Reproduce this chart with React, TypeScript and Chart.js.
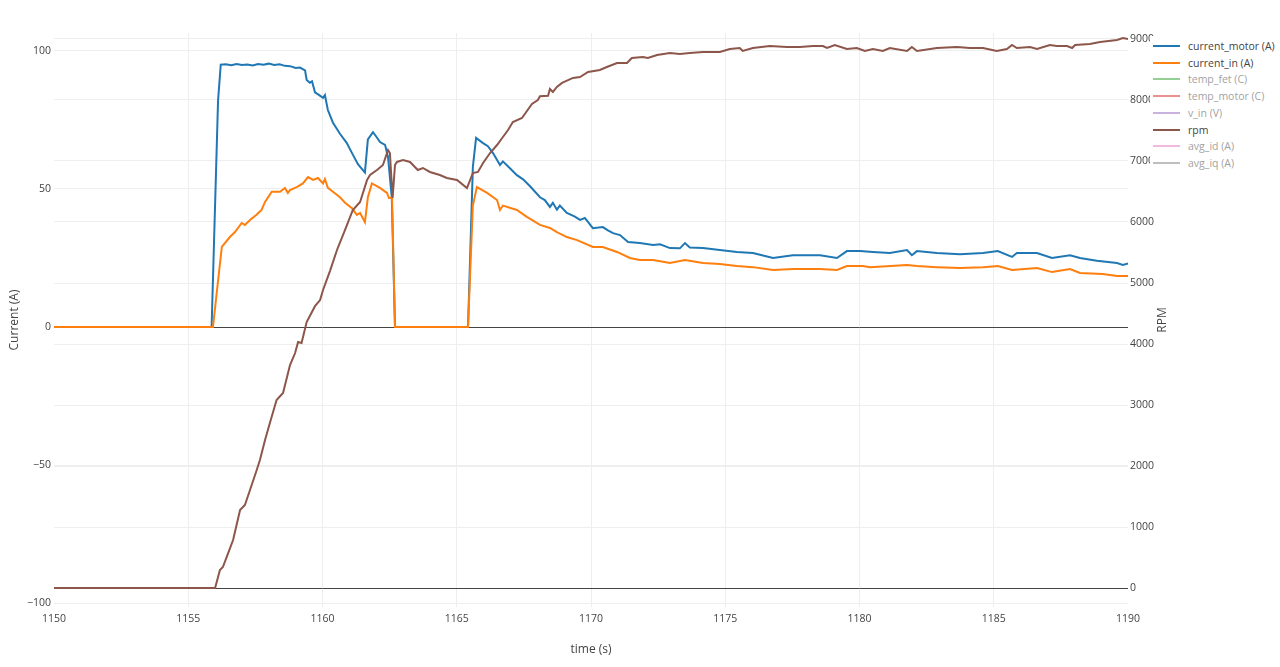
import React, { useEffect, useRef } from "react";
import { Chart, registerables } from "chart.js";

Chart.register(...registerables);

// ---------- data ----------
const xTicks = [1150, 1155, 1160, 1165, 1170, 1175, 1180, 1185, 1190];
const currentTicks = [-100, -50, 0, 50, 100];
const rpmTicks = [0, 1000, 2000, 3000, 4000, 5000, 6000, 7000, 8000, 9000];

const motorTime = [1150, 1155.87, 1156.11, 1156.21, 1156.4, 1156.6, 1156.8, 1157.0, 1157.2, 1157.4, 1157.6, 1157.8, 1158.0, 1158.2, 1158.4, 1158.6, 1158.79, 1159.0, 1159.16, 1159.35, 1159.41, 1159.53, 1159.61, 1159.72, 1159.85, 1160.02, 1160.09, 1160.2, 1160.39, 1160.52, 1160.65, 1160.9, 1161.1, 1161.32, 1161.45, 1161.58, 1161.69, 1161.88, 1162.0, 1162.14, 1162.33, 1162.44, 1162.58, 1162.7, 1165.42, 1165.6, 1165.72, 1165.98, 1166.16, 1166.35, 1166.61, 1166.72, 1166.98, 1167.24, 1167.47, 1167.73, 1168.1, 1168.28, 1168.47, 1168.58, 1168.73, 1168.84, 1169.1, 1169.4, 1169.59, 1169.77, 1170.07, 1170.44, 1170.63, 1170.82, 1171.08, 1171.38, 1171.82, 1172.31, 1172.57, 1172.94, 1173.31, 1173.5, 1173.68, 1174.17, 1174.8, 1175.43, 1176.03, 1176.78, 1177.52, 1178.53, 1179.16, 1179.53, 1180.02, 1180.5, 1181.13, 1181.77, 1181.95, 1182.14, 1182.88, 1183.74, 1184.6, 1185.15, 1185.68, 1185.86, 1186.61, 1187.17, 1187.84, 1188.21, 1188.84, 1189.59, 1189.81, 1190];
const motorCurrent = [0, 0, 82, 95, 95.2, 94.8, 95.3, 94.9, 95.1, 94.7, 95.3, 95.0, 95.4, 94.9, 95.2, 94.6, 94.5, 93.8, 94.0, 93.0, 89.5, 88.5, 89, 85, 84.2, 83, 84, 78.6, 74, 72, 70, 66.7, 63, 59, 57.5, 56, 68, 70.6, 69, 67, 66, 61.6, 47, 0, 0, 58, 68.5, 66.6, 65.5, 63, 58.7, 60, 57.5, 55, 53.5, 51, 47, 46, 43.5, 45, 42.5, 44, 41.3, 40, 38.8, 39.5, 35.8, 36.2, 35, 34, 33.3, 30.8, 30.4, 29.7, 30, 28.6, 28.5, 30.4, 28.8, 28.6, 27.9, 27.2, 26.8, 25, 26, 26, 25, 27.5, 27.5, 27.2, 26.8, 27.9, 26, 27.5, 26.8, 26.4, 26.8, 27.5, 25.4, 26.8, 26.8, 25, 26, 25, 24, 23.2, 22.5, 23];

const inTime = [1150, 1155.92, 1156.25, 1156.55, 1156.74, 1156.99, 1157.11, 1157.3, 1157.52, 1157.73, 1157.86, 1158.11, 1158.42, 1158.6, 1158.71, 1158.79, 1159.04, 1159.27, 1159.46, 1159.65, 1159.83, 1160.02, 1160.09, 1160.2, 1160.39, 1160.65, 1160.84, 1161.1, 1161.28, 1161.4, 1161.58, 1161.69, 1161.84, 1162.14, 1162.4, 1162.48, 1162.59, 1162.7, 1165.42, 1165.6, 1165.75, 1166.13, 1166.5, 1166.61, 1166.72, 1167.24, 1167.61, 1168.1, 1168.47, 1168.73, 1169.1, 1169.48, 1170.07, 1170.44, 1170.97, 1171.45, 1171.82, 1172.31, 1172.94, 1173.5, 1174.17, 1174.8, 1175.43, 1176.03, 1176.78, 1177.52, 1178.53, 1179.16, 1179.53, 1180.13, 1180.39, 1181.77, 1182.14, 1182.88, 1183.74, 1184.6, 1185.15, 1185.68, 1186.61, 1187.17, 1187.84, 1188.21, 1189.06, 1189.59, 1190];
const inCurrent = [0, 0, 29, 32.6, 34.4, 37.7, 37, 38.8, 40.5, 42.4, 45.3, 49, 49, 50.4, 48.6, 49.6, 50.7, 52, 54.3, 53.3, 54, 52, 53.6, 50.4, 49, 47, 45, 43, 40.6, 41.3, 38, 47, 52, 50.4, 48.6, 46.7, 47, 0, 0, 44, 50.7, 48.6, 46, 42.4, 44, 42.4, 39.9, 37, 35.9, 34.4, 32.6, 31.5, 29, 29, 27.2, 25, 24.3, 24.3, 23.2, 24.3, 23.2, 22.8, 22.1, 21.7, 20.7, 21, 21, 20.7, 22.1, 22.1, 21.7, 22.5, 22.1, 21.7, 21.4, 21.7, 22.1, 20.7, 21.4, 19.9, 21, 19.6, 19.2, 18.5, 18.5];

const rpmTime = [1150, 1156.0, 1156.18, 1156.29, 1156.43, 1156.67, 1156.93, 1157.11, 1157.3, 1157.55, 1157.67, 1157.86, 1158.04, 1158.29, 1158.53, 1158.79, 1158.98, 1159.09, 1159.22, 1159.41, 1159.72, 1159.91, 1160.02, 1160.28, 1160.54, 1160.84, 1161.13, 1161.4, 1161.66, 1161.77, 1162.03, 1162.25, 1162.44, 1162.51, 1162.61, 1162.7, 1162.77, 1163.0, 1163.26, 1163.55, 1163.74, 1164.0, 1164.37, 1164.63, 1165.01, 1165.38, 1165.6, 1165.79, 1165.98, 1166.24, 1166.5, 1166.72, 1166.91, 1167.09, 1167.43, 1167.8, 1168.02, 1168.1, 1168.4, 1168.47, 1168.58, 1168.73, 1168.92, 1169.33, 1169.59, 1169.89, 1170.33, 1170.59, 1170.97, 1171.34, 1171.52, 1171.93, 1172.12, 1172.46, 1172.94, 1173.31, 1173.68, 1174.17, 1174.8, 1175.17, 1175.54, 1175.65, 1176.03, 1176.66, 1177.3, 1177.78, 1178.27, 1178.64, 1178.79, 1179.08, 1179.53, 1179.9, 1180.2, 1180.5, 1180.87, 1181.13, 1181.77, 1181.95, 1182.14, 1182.88, 1183.63, 1184.11, 1184.6, 1185.11, 1185.49, 1185.68, 1185.86, 1186.35, 1186.61, 1187.09, 1187.35, 1187.73, 1187.92, 1188.03, 1188.58, 1188.96, 1189.59, 1189.81, 1190];
const rpmValues = [0, 0, 295, 344, 508, 787, 1279, 1361, 1607, 1934, 2098, 2426, 2705, 3082, 3197, 3656, 3852, 4033, 4016, 4361, 4620, 4721, 4885, 5200, 5541, 5869, 6197, 6328, 6689, 6770, 6852, 6934, 7180, 7131, 6393, 6934, 6984, 7016, 6984, 6852, 6885, 6820, 6770, 6721, 6689, 6557, 6803, 6820, 6967, 7131, 7262, 7393, 7508, 7639, 7705, 7934, 8000, 8060, 8070, 8180, 8131, 8213, 8279, 8361, 8377, 8459, 8492, 8541, 8607, 8607, 8689, 8705, 8689, 8738, 8770, 8754, 8770, 8787, 8787, 8836, 8852, 8803, 8852, 8885, 8869, 8869, 8885, 8885, 8852, 8902, 8836, 8852, 8803, 8836, 8803, 8852, 8803, 8869, 8803, 8852, 8869, 8852, 8852, 8803, 8836, 8902, 8852, 8869, 8836, 8902, 8885, 8885, 8852, 8902, 8918, 8951, 8984, 9016, 9000];

const legendLabels = ["current_motor (A)", "current_in (A)", "temp_fet (C)", "temp_motor (C)", "v_in (V)", "rpm", "avg_id (A)", "avg_iq (A)"];
const legendColors = ["#1f77b4", "#ff7f0e", "#2ca02c", "#d62728", "#9467bd", "#8c564b", "#e377c2", "#7f7f7f"];
const legendVisible = [true, true, false, false, false, true, false, false];

const xTitle = "time (s)";
const leftTitle = "Current (A)";
const rightTitle = "RPM";

const toPoints = (xs: number[], ys: number[]) =>
  xs.slice(0, Math.min(xs.length, ys.length)).map((x, i) => ({ x, y: ys[i] }));

const FONT = '"Open Sans", "Noto Sans", sans-serif';

const titlePlugin = {
  id: "axisTitles",
  afterDraw(chart: any) {
    const ctx = chart.ctx;
    const a = chart.chartArea;
    ctx.save();
    ctx.fillStyle = "#444";
    ctx.font = `12px ${FONT}`;
    ctx.textAlign = "center";
    ctx.textBaseline = "middle";
    ctx.fillText(xTitle, (a.left + a.right) / 2, 650);
    const cy = (a.top + a.bottom) / 2;
    ctx.save();
    ctx.translate(15, cy);
    ctx.rotate(-Math.PI / 2);
    ctx.fillText(leftTitle, 0, 0);
    ctx.restore();
    ctx.save();
    ctx.translate(1163, cy);
    ctx.rotate(-Math.PI / 2);
    ctx.fillText(rightTitle, 0, 0);
    ctx.restore();
    ctx.restore();
  },
};

export default function App() {
  const canvasRef = useRef<HTMLCanvasElement | null>(null);

  useEffect(() => {
    if (!canvasRef.current) return;
    const chart = new Chart(canvasRef.current, {
      type: "line",
      data: {
        datasets: [
          {
            label: legendLabels[0],
            data: toPoints(motorTime, motorCurrent),
            borderColor: legendColors[0],
            backgroundColor: legendColors[0],
            borderWidth: 2,
            pointRadius: 0,
            yAxisID: "y",
            order: 2,
          },
          {
            label: legendLabels[1],
            data: toPoints(inTime, inCurrent),
            borderColor: legendColors[1],
            backgroundColor: legendColors[1],
            borderWidth: 2,
            pointRadius: 0,
            yAxisID: "y",
            order: 1,
          },
          {
            label: legendLabels[5],
            data: toPoints(rpmTime, rpmValues),
            borderColor: legendColors[5],
            backgroundColor: legendColors[5],
            borderWidth: 2,
            pointRadius: 0,
            yAxisID: "y1",
            order: 0,
          },
        ],
      },
      options: {
        responsive: false,
        animation: false,
        devicePixelRatio: 1,
        events: [],
        layout: { padding: { top: 33, left: 0, right: 107, bottom: 0 } },
        plugins: { legend: { display: false }, tooltip: { enabled: false } },
        scales: {
          x: {
            type: "linear",
            min: 1150,
            max: 1190,
            afterBuildTicks: (s: any) => {
              s.ticks = xTicks.map((v) => ({ value: v }));
            },
            afterFit: (s: any) => {
              s.height = 60;
            },
            grid: {
              drawTicks: false,
              color: (c: any) =>
                c.tick && (c.tick.value === 1150 || c.tick.value === 1190) ? "rgba(0,0,0,0)" : "#eee",
              lineWidth: 1,
            },
            border: { display: false },
            ticks: {
              color: "#444",
              font: { family: FONT, size: 10.5 },
              padding: 6,
              maxRotation: 0,
              autoSkip: false,
              callback: (v: any) => String(v),
            },
          },
          y: {
            type: "linear",
            position: "left",
            min: -101.4,
            max: 106.5,
            afterBuildTicks: (s: any) => {
              s.ticks = currentTicks.map((v) => ({ value: v }));
            },
            afterFit: (s: any) => {
              s.width = 54;
            },
            grid: {
              drawTicks: false,
              color: (c: any) => (c.tick && c.tick.value === 0 ? "#444" : "#eee"),
              lineWidth: 1,
            },
            border: { display: false },
            ticks: {
              color: "#444",
              font: { family: FONT, size: 10.5 },
              padding: 3,
              autoSkip: false,
              callback: (v: any) => (Number(v) < 0 ? "\u2212" + Math.abs(Number(v)) : String(v)),
            },
          },
          y1: {
            type: "linear",
            position: "right",
            min: -311,
            max: 9098,
            afterBuildTicks: (s: any) => {
              s.ticks = rpmTicks.map((v) => ({ value: v }));
            },
            afterFit: (s: any) => {
              s.width = 45;
            },
            grid: {
              drawTicks: false,
              drawOnChartArea: true,
              color: (c: any) => (c.tick && c.tick.value === 0 ? "#444" : "#eee"),
              lineWidth: 1,
            },
            border: { display: false },
            ticks: {
              color: "#444",
              font: { family: FONT, size: 10.5 },
              padding: 2,
              autoSkip: false,
              callback: (v: any) => String(v),
            },
          },
        },
      },
      plugins: [titlePlugin],
    } as any);
    return () => chart.destroy();
  }, []);

  return (
    <div style={{ position: "absolute", left: 0, top: 0, width: 1280, height: 667, background: "#fff", overflow: "hidden" }}>
      <canvas ref={canvasRef} width={1280} height={667} style={{ display: "block" }} />
      <div
        style={{
          position: "absolute",
          left: 1150,
          top: 36,
          width: 130,
          height: 138,
          background: "#fff",
          fontFamily: FONT,
          fontSize: 10.5,
          color: "#444",
        }}
      >
        {legendLabels.map((label, i) => (
          <div
            key={label}
            style={{
              position: "absolute",
              left: 0,
              top: 10 + i * 16.7 - 8,
              height: 16,
              display: "flex",
              alignItems: "center",
              whiteSpace: "nowrap",
              opacity: legendVisible[i] ? 1 : 0.5,
            }}
          >
            <div style={{ marginLeft: 3, width: 27, height: 2, background: legendColors[i] }} />
            <span style={{ marginLeft: 8 }}>{label}</span>
          </div>
        ))}
      </div>
    </div>
  );
}
